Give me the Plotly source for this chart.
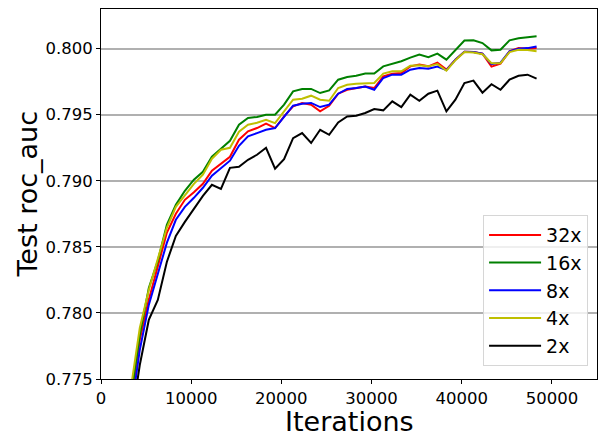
import plotly.graph_objects as go

iterations = [3300, 4300, 5300, 6300, 7300, 8300, 9300, 10300, 11300, 12300,
              13300, 14300, 15300, 16300, 17300, 18300, 19300, 20300, 21300, 22300,
              23300, 24300, 25300, 26300, 27300, 28300, 29300, 30300, 31300, 32300,
              33300, 34300, 35300, 36300, 37300, 38300, 39300, 40300, 41300, 42300,
              43300, 44300, 45300, 46300, 47300, 48300]

auc_32x = [0.77311, 0.77796, 0.78099, 0.78349, 0.78606, 0.7875, 0.78856, 0.78913, 0.78977, 0.79076,
           0.79129, 0.79182, 0.79311, 0.79374, 0.79399, 0.79432, 0.79399, 0.79487, 0.79563, 0.79589,
           0.79576, 0.79525, 0.79568, 0.79659, 0.79689, 0.79702, 0.79714, 0.79702, 0.7979, 0.79811,
           0.79816, 0.79866, 0.79879, 0.79866, 0.79894, 0.79841, 0.79917, 0.79977, 0.79974, 0.79962,
           0.79864, 0.79886, 0.7998, 0.80004, 0.8, 0.80005]

auc_16x = [0.77356, 0.77833, 0.78189, 0.78394, 0.78667, 0.78818, 0.78924, 0.79008, 0.79068, 0.79182,
           0.79242, 0.79303, 0.79424, 0.79475, 0.79483, 0.795, 0.795, 0.79576, 0.79677, 0.79695,
           0.79695, 0.79664, 0.79684, 0.79765, 0.79786, 0.79795, 0.79811, 0.79811, 0.79866, 0.79886,
           0.79905, 0.79932, 0.79955, 0.79936, 0.79962, 0.79917, 0.79992, 0.80061, 0.80063, 0.80042,
           0.79987, 0.79992, 0.80063, 0.80078, 0.80086, 0.80093]

auc_8x = [0.77238, 0.7772, 0.78061, 0.78288, 0.7853, 0.78705, 0.78803, 0.78871, 0.78947, 0.79038,
          0.79098, 0.79152, 0.79265, 0.79336, 0.79361, 0.79386, 0.79399, 0.79487, 0.79568, 0.79583,
          0.79589, 0.79558, 0.79576, 0.79659, 0.79695, 0.79702, 0.79714, 0.79689, 0.79778, 0.79803,
          0.79803, 0.79841, 0.79854, 0.79848, 0.79864, 0.79837, 0.79917, 0.79977, 0.79974, 0.79962,
          0.79883, 0.79894, 0.7998, 0.8, 0.80004, 0.80017]

auc_4x = [0.77424, 0.77886, 0.78174, 0.78402, 0.78644, 0.78803, 0.78894, 0.78977, 0.79046, 0.79167,
          0.79235, 0.7925, 0.79371, 0.79424, 0.79439, 0.79462, 0.79436, 0.79523, 0.79614, 0.79621,
          0.79644, 0.79614, 0.79606, 0.79702, 0.79727, 0.79735, 0.79735, 0.7974, 0.79811, 0.79828,
          0.79828, 0.79871, 0.79875, 0.79866, 0.79883, 0.79833, 0.79913, 0.79974, 0.7997, 0.79958,
          0.7989, 0.7989, 0.79974, 0.79992, 0.79989, 0.7998]

auc_2x = [0.77152, 0.77606, 0.77947, 0.78098, 0.78386, 0.78583, 0.78689, 0.78788, 0.78886, 0.7897,
          0.78939, 0.79098, 0.79106, 0.79159, 0.79197, 0.7925, 0.79091, 0.79164, 0.79323, 0.79361,
          0.79286, 0.79386, 0.79348, 0.79442, 0.79487, 0.79492, 0.79513, 0.79543, 0.79533, 0.79601,
          0.79558, 0.79652, 0.79606, 0.79659, 0.79682, 0.79525, 0.79614, 0.7974, 0.79758, 0.79667,
          0.79731, 0.79689, 0.79765, 0.79795, 0.79803, 0.79773]

series_names = ["32x", "16x", "8x", "4x", "2x"]
series_values = [auc_32x, auc_16x, auc_8x, auc_4x, auc_2x]
series_colors = ["#ff0000", "#008000", "#0000ff", "#bfbf00", "#000000"]

y_ticks = [0.775, 0.780, 0.785, 0.790, 0.795, 0.800]
x_ticks = [0, 10000, 20000, 30000, 40000, 50000]

FONT = "DejaVu Sans"

fig = go.Figure()
for name, vals, col in zip(series_names, series_values, series_colors):
    fig.add_trace(go.Scatter(x=iterations, y=vals, mode="lines", name=name,
                             line=dict(color=col, width=2)))

# the page body adds an 8px offset, so margins compensate for it
fig.update_layout(
    width=607, height=447,
    margin=dict(l=93, r=18, t=1, b=76, autoexpand=False),
    paper_bgcolor="white", plot_bgcolor="white",
    font=dict(family=FONT, color="black"),
    showlegend=True,
    legend=dict(x=0.982, y=0.035, xanchor="right", yanchor="bottom",
                bgcolor="rgba(255,255,255,0.8)", bordercolor="#d6d6d6", borderwidth=1,
                font=dict(family=FONT, size=19, color="black"),
                itemwidth=52),
    annotations=[
        dict(text="Test roc_auc", xref="paper", yref="paper", x=-0.15, y=0.5,
             xanchor="center", yanchor="middle", textangle=-90, showarrow=False,
             font=dict(family=FONT, size=27, color="black")),
        dict(text="Iterations", xref="paper", yref="paper", x=0.5, y=-0.114,
             xanchor="center", yanchor="middle", showarrow=False,
             font=dict(family=FONT, size=27, color="black")),
    ],
)
fig.update_xaxes(
    range=[0, 55000], tickvals=x_ticks, ticktext=[str(v) for v in x_ticks],
    showgrid=False, zeroline=False, automargin=False,
    showline=True, linecolor="black", linewidth=1, mirror=True,
    ticks="outside", ticklen=4, tickcolor="black",
    tickfont=dict(family=FONT, size=16.5),
)
fig.update_yaxes(
    range=[0.775, 0.803], tickvals=y_ticks, ticktext=[f"{v:.3f}" for v in y_ticks],
    showgrid=True, gridcolor="#b0b0b0", gridwidth=1.6, zeroline=False, automargin=False,
    showline=True, linecolor="black", linewidth=1, mirror=True,
    ticks="outside", ticklen=4, tickcolor="black",
    tickfont=dict(family=FONT, size=16.5),
)

fig.write_html("out.html")
